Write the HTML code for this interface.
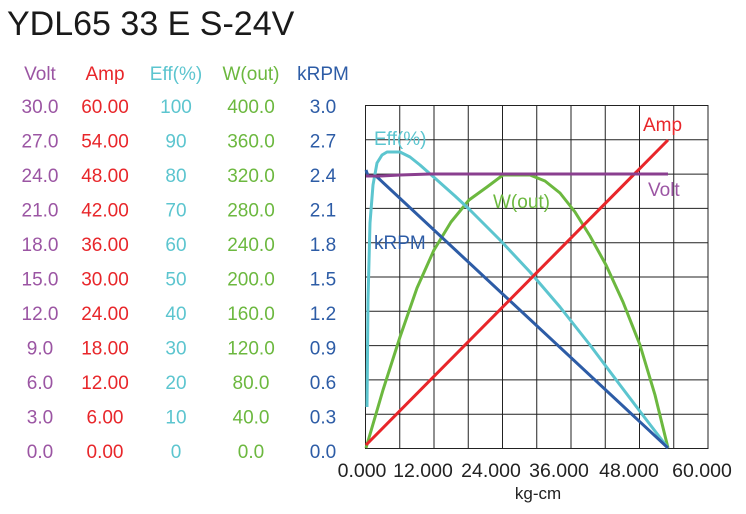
<!DOCTYPE html>
<html><head><meta charset="utf-8"><style>
body{margin:0;background:#fff;width:746px;height:509px;overflow:hidden;font-family:"Liberation Sans",sans-serif}
</style></head><body>
<svg width="746" height="509" xmlns="http://www.w3.org/2000/svg" font-family="Liberation Sans, sans-serif">
<text x="7" y="35" font-size="34" fill="#1a1a1a">YDL65 33 E S-24V</text>
<g font-size="19" text-anchor="middle">
<text x="40" y="80" fill="#9b55a3">Volt</text>
<text x="105" y="80" fill="#e8262a">Amp</text>
<text x="176" y="80" fill="#5cc5cf">Eff(%)</text>
<text x="251" y="80" fill="#6cb83f">W(out)</text>
<text x="323" y="80" fill="#2d5ca6">kRPM</text>
</g>
<g font-size="19" text-anchor="middle" id="rows"></g>
<g stroke="#222" stroke-width="1" fill="none">
<rect x="365.5" y="105.5" width="342.5" height="343"/>
</g>
<g id="grid" stroke="#222" stroke-width="1"></g>
<g font-size="19.5" fill="#222" text-anchor="middle">
<text x="362" y="477">0.000</text><text x="423" y="477">12.000</text><text x="491" y="477">24.000</text><text x="559" y="477">36.000</text><text x="629" y="477">48.000</text><text x="702" y="477">60.000</text>
<text x="538" y="499" font-size="17">kg-cm</text>
</g>
<g fill="none" stroke-width="3" stroke-linejoin="round">
<polyline stroke="#6cb83f" points="366,448 383,390 400,337 417,288 434,250 451,222 469,200 487,187 503,175 530,175 545,181 560,193 575,212 590,236 606,265 623,302 640,345 655,395 668,448"/>
<polyline stroke="#5cc5cf" points="367,407 368,300 370,223 373,185 377,163 382,155 387,152 400,152 410,157 420,165 437,180 455,196 470,210 500,240 530,272 560,307 590,345 620,385 645,418 668,448"/>
<polyline stroke="#2d5ca6" points="366,170 368,176 376,176 668,448"/>
<polyline stroke="#e8262a" points="366,445 668,140"/>
<polyline stroke="#8a3f8f" points="366,176 380,176 400,175 430,174 668,174"/>
</g>
<g font-size="19">
<text x="374" y="145" fill="#5cc5cf">Eff(%)</text>
<text x="643" y="131" fill="#e8262a">Amp</text>
<text x="648" y="196" fill="#9b55a3">Volt</text>
<text x="493" y="208" fill="#6cb83f">W(out)</text>
<text x="374" y="249" fill="#2d5ca6">kRPM</text>
</g>
<script>
var r=document.getElementById('rows'),g=document.getElementById('grid'),ns='http://www.w3.org/2000/svg';
var cols=[[40,'#9b55a3',function(i){return (3*i).toFixed(1)}],[105,'#e8262a',function(i){return (6*i).toFixed(2)}],[176,'#5cc5cf',function(i){return ''+(10*i)}],[251,'#6cb83f',function(i){return (40*i).toFixed(1)}],[323,'#2d5ca6',function(i){return (0.3*i).toFixed(1)}]];
for(var k=0;k<=10;k++){var i=10-k,y=113+k*34.5;cols.forEach(function(c){var t=document.createElementNS(ns,'text');t.setAttribute('x',c[0]);t.setAttribute('y',y);t.setAttribute('fill',c[1]);t.textContent=c[2](i);r.appendChild(t);});}
for(var j=1;j<10;j++){var x=365.5+j*34.25,l=document.createElementNS(ns,'line');l.setAttribute('x1',x);l.setAttribute('x2',x);l.setAttribute('y1',105.5);l.setAttribute('y2',448.5);g.appendChild(l);
var y2=105.5+j*34.3,m=document.createElementNS(ns,'line');m.setAttribute('x1',365.5);m.setAttribute('x2',708);m.setAttribute('y1',y2);m.setAttribute('y2',y2);g.appendChild(m);}
</script>
</svg>
</body></html>
